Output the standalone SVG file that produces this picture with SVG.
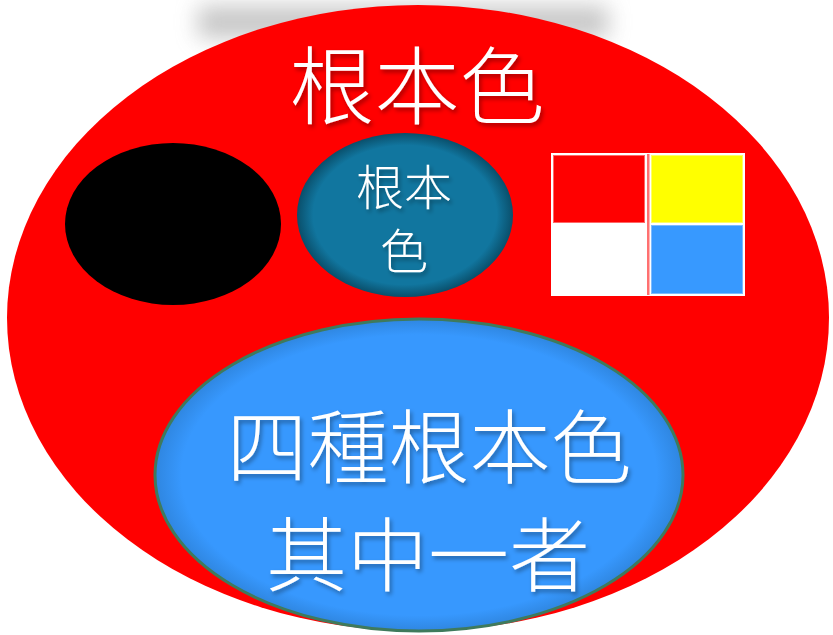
<svg xmlns="http://www.w3.org/2000/svg" width="833" height="635" viewBox="0 0 833 635">
<defs>
<filter id="blur" x="-20%" y="-100%" width="140%" height="300%"><feGaussianBlur stdDeviation="11"/></filter>
<filter id="ts" x="-10%" y="-10%" width="130%" height="130%"><feDropShadow dx="2" dy="3" stdDeviation="2" flood-color="#000" flood-opacity="0.35"/></filter>
<radialGradient id="teal" cx="50%" cy="50%" r="50%">
<stop offset="0.85" stop-color="#11769F"/>
<stop offset="1" stop-color="#0A4F6B"/>
</radialGradient>
<radialGradient id="blue" cx="50%" cy="50%" r="50%">
<stop offset="0.9" stop-color="#3798FE"/>
<stop offset="1" stop-color="#2F86E0"/>
</radialGradient>
<style>
.cjk{font-family:"Noto Sans CJK TC","Noto Sans CJK SC",sans-serif;font-weight:300;fill:#fff;text-anchor:middle;filter:url(#ts)}
</style>
</defs>
<rect width="833" height="635" fill="#fff"/>
<rect x="198" y="6" width="410" height="32" fill="#999" opacity="0.55" filter="url(#blur)"/>
<g id="outer">
<ellipse cx="418" cy="318" rx="411" ry="313" fill="#FF0000"/>
<text class="cjk" x="417" y="118" font-size="85">根本色</text>
</g>
<g id="black">
<ellipse cx="173" cy="224" rx="108" ry="81" fill="#000"/>
</g>
<g id="teal-node">
<ellipse cx="405" cy="215" rx="108" ry="82" fill="url(#teal)"/>
<text class="cjk" x="404" y="205" font-size="48">根本</text>
<text class="cjk" x="404" y="269" font-size="48">色</text>
</g>
<g id="swatches">
<rect x="551" y="153" width="194" height="143" fill="#fff"/>
<rect x="647" y="154" width="2.5" height="141" fill="#FF7070"/>
<rect x="553.5" y="155.5" width="91" height="67" fill="#FF0000" stroke="#FF6666" stroke-width="1"/>
<rect x="651.5" y="155.5" width="91" height="67" fill="#FFFF00" stroke="#FFFF66" stroke-width="1"/>
<rect x="651.5" y="225.5" width="91" height="68" fill="#3799FF" stroke="#7DBBFF" stroke-width="1"/>
</g>
<g id="inner">
<ellipse cx="419" cy="475" rx="264" ry="156" fill="url(#blue)" stroke="#3F7A5C" stroke-width="3"/>
<text class="cjk" x="429" y="477" font-size="81">四種根本色</text>
<text class="cjk" x="428" y="585" font-size="81">其中一者</text>
</g>
<g id="connectors"/>
</svg>
